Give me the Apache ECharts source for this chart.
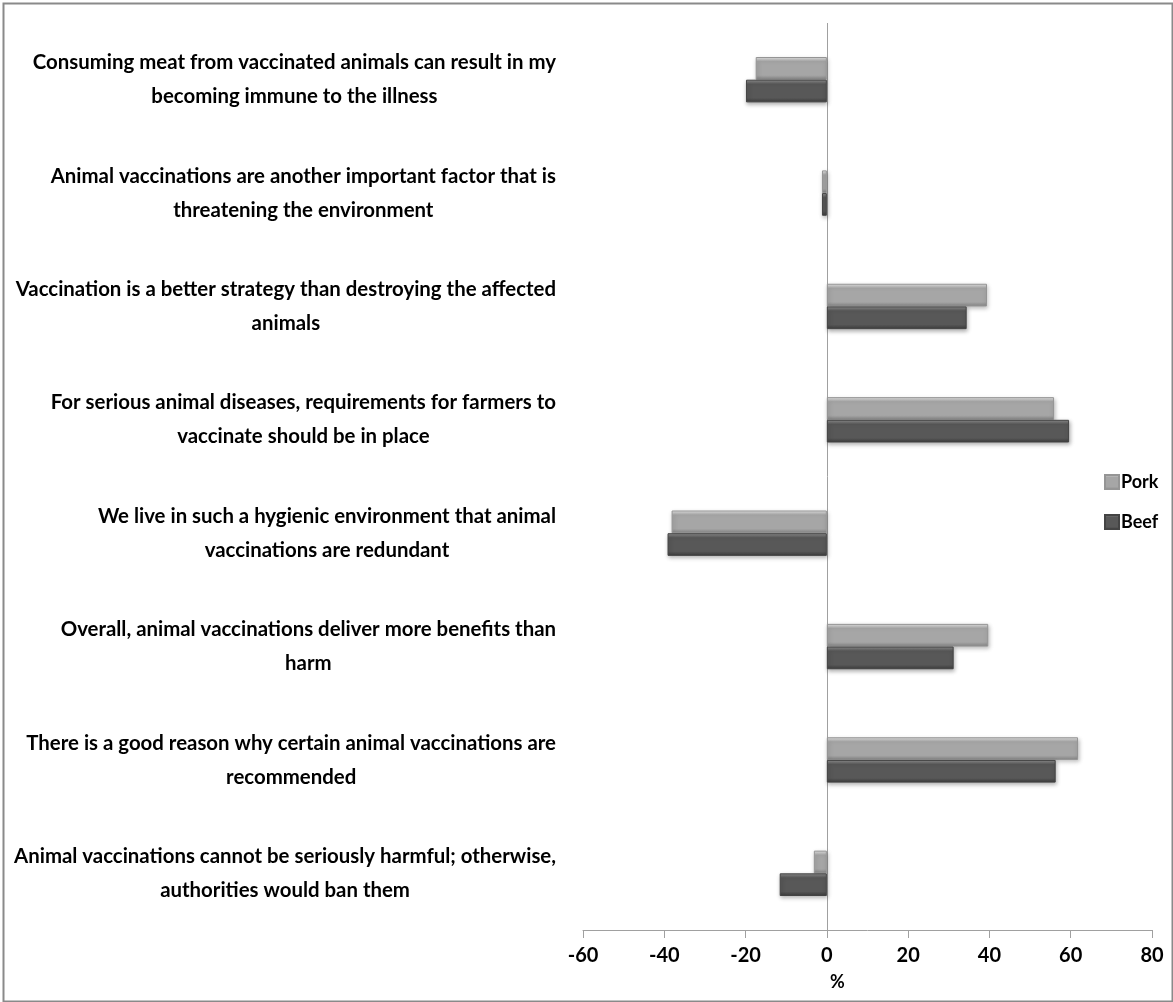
<!DOCTYPE html>
<html>
<head>
<meta charset="utf-8">
<script src="https://cdn.jsdelivr.net/npm/echarts@6/dist/echarts.min.js"></script>
<style>
  html, body { margin: 0; padding: 0; background: #ffffff; }
  #chart { width: 1173px; height: 1002px; }
</style>
</head>
<body>
<div id="chart"></div>
<script>
// Statements, top to bottom, with the line breaks used in the axis labels
const statements = [
  'Consuming meat from vaccinated animals can result in my\nbecoming immune to the illness',
  'Animal vaccinations are another important factor that is\nthreatening the environment',
  'Vaccination is a better strategy than destroying the affected\nanimals',
  'For serious animal diseases, requirements for farmers to\nvaccinate should be in place',
  'We live in such a hygienic environment that animal\nvaccinations are redundant',
  'Overall, animal vaccinations deliver more benefits than\nharm',
  'There is a good reason why certain animal vaccinations are\nrecommended',
  'Animal vaccinations cannot be seriously harmful; otherwise,\nauthorities would ban them'
];

// Net agreement (%) per statement
const porkValues = [-17.5, -1.2, 39.4, 55.9, -38.2, 39.7, 61.8, -3.2];
const beefValues = [-19.9, -1.2, 34.4, 59.6, -39.2, 31.2, 56.3, -11.6];

const seriesNames = ['Pork', 'Beef'];
const xTicks = { min: -60, max: 80, interval: 20 };

const FONT = 'Lato, "Open Sans", sans-serif';

// Bevelled look: bright top edge, flat middle, darker bottom edge
function barGradient(top, mid, bottom) {
  return new echarts.graphic.LinearGradient(0, 0, 0, 1, [
    { offset: 0, color: top },
    { offset: 0.2, color: mid },
    { offset: 0.8, color: mid },
    { offset: 1, color: bottom }
  ]);
}

const porkFill = barGradient('#e6e6e6', '#a6a6a6', '#858585');
const beefFill = barGradient('#909090', '#585858', '#3c3c3c');

const chart = echarts.init(document.getElementById('chart'), null, { renderer: 'canvas' });

chart.setOption({
  backgroundColor: '#ffffff',
  animation: false,
  grid: { left: 583, right: 21, top: 23, bottom: 72, containLabel: false },
  legend: {
    orient: 'vertical',
    left: 1099,
    top: 468,
    itemWidth: 14,
    itemHeight: 14,
    itemGap: 22,
    icon: 'rect',
    data: seriesNames,
    textStyle: { fontFamily: FONT, fontWeight: 'bold', fontSize: 18, color: '#000', padding: [0, 0, 0, -3] }
  },
  xAxis: {
    type: 'value',
    min: xTicks.min,
    max: xTicks.max,
    interval: xTicks.interval,
    axisLine: { show: true, onZero: false, lineStyle: { color: '#a0a0a0', width: 1 } },
    axisTick: { show: true, inside: false, length: 8, lineStyle: { color: '#a0a0a0' } },
    axisLabel: { margin: 16, fontFamily: FONT, fontWeight: 'bold', fontSize: 20, color: '#000' },
    splitLine: { show: false }
  },
  yAxis: {
    type: 'category',
    inverse: true,
    data: statements,
    axisLine: { show: false, onZero: false },
    axisTick: { show: false },
    axisLabel: {
      margin: 27,
      formatter: function (v) {
        return v.split('\n').map(function (s) { return '{t|' + s + '}'; }).join('\n');
      },
      rich: {
        t: { align: 'center', fontFamily: FONT, fontWeight: 'bold', fontSize: 20.4, lineHeight: 34, color: '#000' }
      }
    }
  },
  series: [
    {
      name: seriesNames[0],
      type: 'bar',
      data: porkValues,
      barGap: '0%',
      barCategoryGap: '60%',
      itemStyle: {
        color: porkFill,
        borderColor: '#959595',
        borderWidth: 1,
        shadowBlur: 4,
        shadowColor: 'rgba(0,0,0,0.25)',
        shadowOffsetX: 1,
        shadowOffsetY: 2
      },
      markLine: {
        silent: true,
        symbol: 'none',
        label: { show: false },
        lineStyle: { color: '#a0a0a0', width: 1, type: 'solid' },
        data: [{ xAxis: 0 }],
        z: 1
      },
      z: 3
    },
    {
      name: seriesNames[1],
      type: 'bar',
      data: beefValues,
      barGap: '0%',
      barCategoryGap: '60%',
      itemStyle: {
        color: beefFill,
        borderColor: '#444444',
        borderWidth: 1,
        shadowBlur: 4,
        shadowColor: 'rgba(0,0,0,0.3)',
        shadowOffsetX: 1,
        shadowOffsetY: 2
      },
      z: 3
    }
  ],
  graphic: [
    {
      type: 'rect',
      left: 1, top: 1,
      shape: { width: 1169, height: 998 },
      style: { fill: 'none', stroke: '#8a8a8a', lineWidth: 2 },
      silent: true
    },
    {
      type: 'text',
      left: 830, top: 973,
      style: { text: '%', font: 'bold 18px ' + FONT, fill: '#000' },
      silent: true
    }
  ]
});
</script>
</body>
</html>
